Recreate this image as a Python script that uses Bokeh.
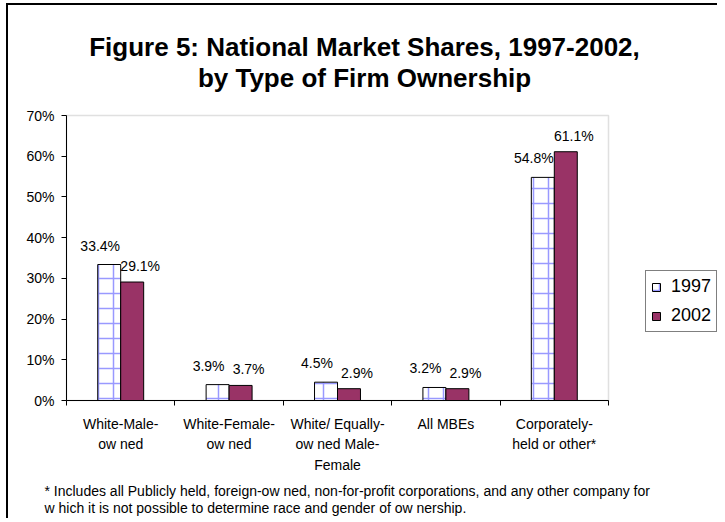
from bokeh.plotting import figure
from bokeh.models import (ColumnDataSource, FixedTicker, PrintfTickFormatter, Legend,
                          LegendItem, Label, Range1d, BoxAnnotation, InlineStyleSheet, LinearAxis)
from bokeh.transform import dodge
from bokeh.embed import file_html
from bokeh.resources import INLINE
from bokeh.core.properties import value

# ---- data ----
categories = ["White-Male-\now ned", "White-Female-\now ned",
              "White/ Equally-\now ned Male-\nFemale", "All MBEs",
              "Corporately-\nheld or other*"]
share_1997 = [33.4, 3.9, 4.5, 3.2, 54.8]
share_2002 = [29.1, 3.7, 2.9, 2.9, 61.1]
series_names = ["1997", "2002"]
y_ticks = [0, 10, 20, 30, 40, 50, 60, 70]
title_lines = ["Figure 5: National Market Shares, 1997-2002,", "by Type of Firm Ownership"]
footnote_lines = ["* Includes all Publicly held, foreign-ow ned, non-for-profit corporations, and any other company for",
                  "w hich it is not possible to determine race and gender of ow nership."]

# ---- layout (pixels) ----
FONT = "Liberation Sans"
W, H = 717, 518
PLOT_LEFT, PLOT_RIGHT = 66, 608     # plot area edges
PLOT_TOP, PLOT_BOTTOM = 115, 400

n = len(categories)
pos = list(range(n))
C = (PLOT_RIGHT - PLOT_LEFT) / n              # px per category
Y = (PLOT_BOTTOM - PLOT_TOP) / y_ticks[-1]    # px per percent
x0 = -0.5 - PLOT_LEFT / C
x1 = x0 + W / C
y0 = -(H - PLOT_BOTTOM) / Y
y1 = y0 + H / Y


def px_x(px):
    return x0 + px / C


def px_y(py):
    return y1 - py / Y


src = ColumnDataSource(dict(
    x=pos, y97=share_1997, y02=share_2002,
    l97=[f"{v:.1f}%" for v in share_1997],
    l02=[f"{v:.1f}%" for v in share_2002],
))

p = figure(width=W, height=H, x_range=Range1d(x0, x1), y_range=Range1d(y0, y1),
           output_backend="svg", toolbar_location=None,
           x_axis_location=None, y_axis_location=None,
           min_border_left=0, min_border_right=0, min_border_top=0, min_border_bottom=0)
css = """
:host { position: relative; }
:host::before { content: ""; position: absolute; left: 6px; top: 3px; width: 2px; bottom: 0;
                background: #000; z-index: 100; pointer-events: none; }
:host::after { content: ""; position: absolute; left: 6px; top: 3px; height: 2px; right: 0;
               background: #000; z-index: 100; pointer-events: none; }
"""
p.stylesheets = [InlineStyleSheet(css=css)]
p.background_fill_color = "white"
p.border_fill_color = "white"
p.outline_line_color = None
p.grid.visible = False

# grey plot-area border
p.add_layout(BoxAnnotation(left=-0.5, right=n - 0.5, bottom=0, top=y_ticks[-1],
                           fill_alpha=0, line_color="#999999", line_width=1.5, level="underlay"))

bw = 0.212
r97 = p.vbar(x=dodge("x", -bw / 2, range=p.x_range), top="y97", width=bw, source=src,
             fill_color="white", hatch_pattern="+", hatch_color="#9999ff", hatch_scale=15,
             hatch_weight=1.5, line_color="black", line_width=1)
r02 = p.vbar(x=dodge("x", bw / 2, range=p.x_range), top="y02", width=bw, source=src,
             fill_color="#993366", line_color="black", line_width=1)

p.text(x=dodge("x", -bw / 2, range=p.x_range), y="y97", text="l97", source=src,
       x_offset=-9, y_offset=-19, text_align="center", text_baseline="middle",
       text_font=value(FONT), text_font_size="14px", text_color="black")
p.text(x=dodge("x", bw / 2, range=p.x_range), y="y02", text="l02", source=src,
       x_offset=8, y_offset=-16, text_align="center", text_baseline="middle",
       text_font=value(FONT), text_font_size="14px", text_color="black")

# y axis
ya = LinearAxis(fixed_location=-0.5, bounds=(0, y_ticks[-1]))
ya.ticker = FixedTicker(ticks=y_ticks)
ya.formatter = PrintfTickFormatter(format="%d%%")
ya.major_tick_out = 5
ya.major_tick_in = 0
ya.minor_tick_out = 0
ya.minor_tick_in = 0
ya.axis_line_color = "black"
ya.major_tick_line_color = "black"
ya.major_label_text_font = FONT
ya.major_label_text_font_size = "14px"
ya.major_label_text_color = "black"
ya.major_label_standoff = 7
p.add_layout(ya, "left")

# x axis: labels at centres, tick marks at category boundaries
xa = LinearAxis(fixed_location=0, bounds=(-0.5, n - 0.5))
xa.ticker = FixedTicker(ticks=pos, minor_ticks=[i - 0.5 for i in range(n + 1)])
xa.major_label_overrides = {i: c for i, c in zip(pos, categories)}
xa.major_tick_line_color = None
xa.major_tick_out = 0
xa.major_tick_in = 0
xa.minor_tick_line_color = "black"
xa.minor_tick_out = 5
xa.minor_tick_in = 0
xa.axis_line_color = "black"
xa.major_label_text_font = FONT
xa.major_label_text_font_size = "14px"
xa.major_label_text_color = "black"
xa.major_label_text_line_height = 1.3
xa.major_label_standoff = 10
p.add_layout(xa, "below")

# title
for line, py in zip(title_lines, [46, 77]):
    p.add_layout(Label(x=px_x(364), y=px_y(py), text=line, text_align="center",
                       text_baseline="middle", text_font=FONT, text_font_size="26px",
                       text_font_style="bold", text_color="black"))

# footnote
for line, py in zip(footnote_lines, [490, 507]):
    p.add_layout(Label(x=px_x(44), y=px_y(py), text=line, text_align="left",
                       text_baseline="middle", text_font=FONT, text_font_size="14px",
                       text_color="black"))

legend = Legend(items=[LegendItem(label=series_names[0], renderers=[r97]),
                       LegendItem(label=series_names[1], renderers=[r02])],
                location=(645, H - 332), orientation="vertical",
                label_text_font=FONT, label_text_font_size="18px", label_text_color="black",
                glyph_width=10, glyph_height=10, label_height=20, label_standoff=10,
                spacing=8, padding=5, margin=0,
                border_line_color="black", border_line_width=1,
                background_fill_color="white", background_fill_alpha=1)
p.add_layout(legend)

open("out.html", "w").write(file_html(p, INLINE))
